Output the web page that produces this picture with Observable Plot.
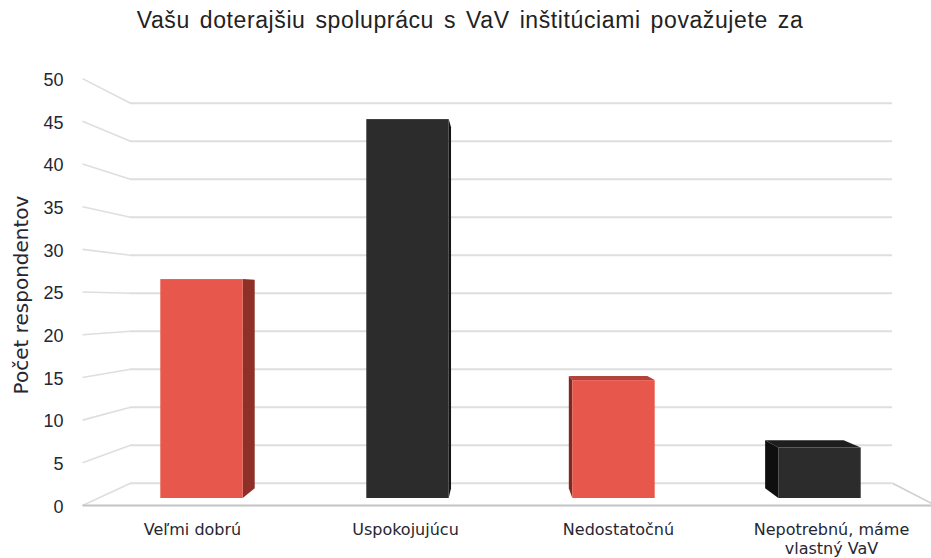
<!DOCTYPE html>
<html>
<head>
<meta charset="utf-8">
<script src="https://cdn.jsdelivr.net/npm/d3@7"></script>
<script src="https://cdn.jsdelivr.net/npm/@observablehq/plot@0.6"></script>
<style>
  body { margin: 0; background: #fff; }
  #wrap { position: relative; width: 931px; height: 558px; overflow: hidden; }
  #title {
    position: absolute; left: 0; top: 7px; width: 940px; text-align: center;
    font-family: "Liberation Sans", Arial, sans-serif;
    font-size: 23px; color: #222; word-spacing: 3px; letter-spacing: 0.6px; white-space: nowrap;
  }
  #chart { position: absolute; left: 0; top: 0; }
</style>
</head>
<body>
<div id="wrap">
  <div id="chart"></div>
  <div id="title">Vašu doterajšiu spoluprácu s VaV inštitúciami považujete za</div>
</div>
<script>
// ---- data ----
const categories = ["Veľmi dobrú", "Uspokojujúcu", "Nedostatočnú", "Nepotrebnú, máme\nvlastný VaV"];
const values = [26, 45, 14, 6];
const tones = ["red", "dark", "red", "dark"];
const yTicks = [0, 5, 10, 15, 20, 25, 30, 35, 40, 45, 50];
const yTitle = "Počet respondentov";

// ---- styling / pseudo-3D geometry (in scale units) ----
const palette = {
  red:  {front: "#e8574b", side: "#8e2f28", top: "#b3433a", sideL: "#7d2a23"},
  dark: {front: "#2c2c2c", side: "#151515", top: "#1e1e1e", sideL: "#0f0f0f"}
};
const HW = 0.2;                  // half bar width (category units)
const VX = 1.44, VY = 24.5, R = 0.953;   // vanishing point & bar depth factor
const bx = x => VX + (x - VX) * R;
const by = t => VY + (t - VY) * R;
const frontY = t => -0.83 + 1.014 * t;    // front plane of the axis box
const backY = t => 1.82 + 0.9026 * t;     // back wall
const frontLeft = -0.58, backLeft = -0.347, backRight = 3.352, frontRight = 3.56;
const labelX = i => 1.36 + (i - 1.36) * 1.034;

const bars = categories.map((c, i) => ({i, c, v: values[i], tone: tones[i]}));

const sides = bars.flatMap(d => {
  const left = d.i < VX;
  const fx = left ? d.i + HW : d.i - HW;
  const col = left ? palette[d.tone].side : palette[d.tone].sideL;
  return [
    {i: d.i, col, x: fx, y1: 0, y2: d.v},
    {i: d.i, col, x: bx(fx), y1: by(0), y2: by(d.v)}
  ];
});

const tops = bars.filter(d => d.v < VY).flatMap(d => [
  {i: d.i, col: palette[d.tone].top, y: d.v, x1: d.i - HW, x2: d.i + HW},
  {i: d.i, col: palette[d.tone].top, y: by(d.v), x1: bx(d.i - HW), x2: bx(d.i + HW)}
]);

const grid = "#dedede";

const chart = Plot.plot({
  width: 931,
  height: 558,
  marginLeft: 98.5,
  marginRight: 8.5,
  marginTop: 77,
  marginBottom: 60,
  x: {domain: [-0.5, 3.5], axis: null},
  y: {domain: [0, 50], axis: null},
  color: {type: "identity"},
  style: {background: "transparent"},
  marks: [
    // back wall gridlines
    Plot.ruleY(yTicks, {y: backY, x1: backLeft, x2: backRight, stroke: grid, strokeWidth: 2}),
    // side wall diagonals
    Plot.link(yTicks, {x1: frontLeft, y1: frontY, x2: backLeft, y2: backY, stroke: grid, strokeWidth: 1.6}),
    // floor
    Plot.link([0], {x1: backRight, y1: backY, x2: frontRight, y2: frontY, stroke: "#cfcfcf", strokeWidth: 1.6}),
    Plot.link([0], {x1: frontLeft, y1: frontY, x2: frontRight, y2: frontY, stroke: "#c4c4c4", strokeWidth: 2}),
    // bar side and top faces
    Plot.areaY(sides, {x: "x", y1: "y1", y2: "y2", z: "i", fill: "col"}),
    Plot.areaX(tops, {y: "y", x1: "x1", x2: "x2", z: "i", fill: "col"}),
    // bar fronts
    Plot.rect(bars, {x1: d => d.i - HW, x2: d => d.i + HW, y1: 0, y2: "v", fill: d => palette[d.tone].front}),
    // y tick labels
    Plot.text(yTicks, {x: frontLeft, y: frontY, text: d => String(d), textAnchor: "end", dx: -19, dy: 1.5,
      fontSize: 18, fill: "#262633", fontFamily: "Liberation Sans, Arial, sans-serif"}),
    // category labels
    Plot.text(bars, {x: d => labelX(d.i), y: () => frontY(0), text: "c", lineAnchor: "top", dy: 16,
      lineHeight: 1.2, fontSize: 16, fill: "#262633", fontFamily: "DejaVu Sans, sans-serif"}),
    // y title
    Plot.text([yTitle], {frameAnchor: "left", rotate: -90, textAnchor: "middle", dx: -77, dy: 7,
      fontSize: 20, fill: "#262633", fontFamily: "DejaVu Sans, sans-serif"})
  ]
});
document.getElementById("chart").appendChild(chart);
</script>
</body>
</html>
